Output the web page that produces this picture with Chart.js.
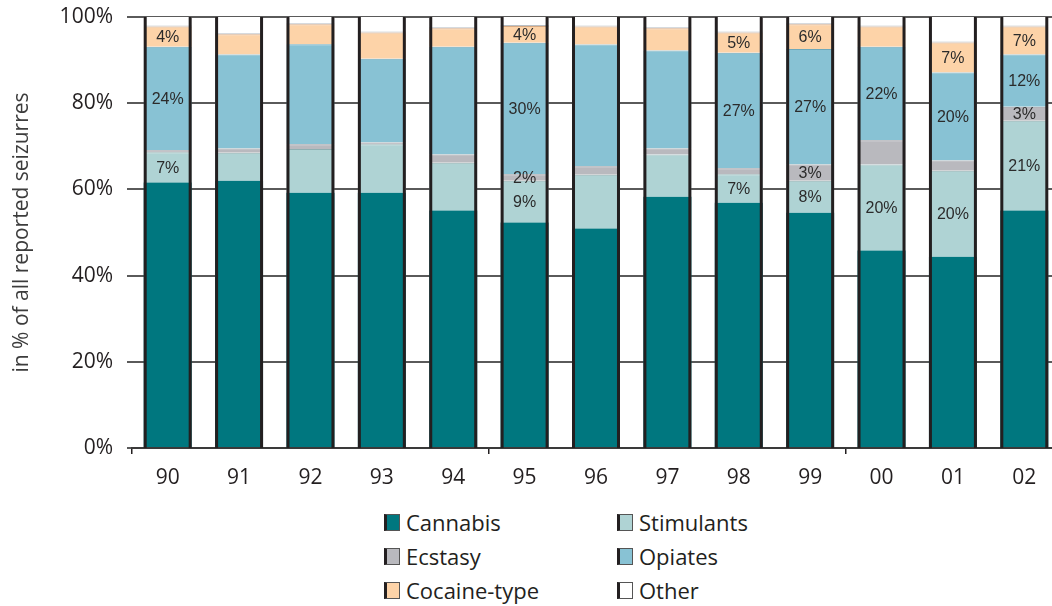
<!DOCTYPE html>
<html>
<head>
<meta charset="utf-8">
<script src="https://cdn.jsdelivr.net/npm/chart.js@4.4.1/dist/chart.umd.min.js"></script>
<style>
  html, body { margin: 0; padding: 0; background: #fff; overflow: hidden; }
  #wrap { position: relative; width: 1052px; height: 606px; overflow: hidden; }
  #chart { position: absolute; left: 0; top: 0; }
  #legend {
    position: absolute; left: 384px; top: 505px;
    display: grid; grid-template-columns: 233px 200px; grid-auto-rows: 34px;
    font-family: "Open Sans", sans-serif; font-size: 22px; color: #231f20;
  }
  .item { display: flex; align-items: center; }
  .box { width: 12px; height: 15px; border: 1px solid #555; border-left: 3px solid #231f20; margin-right: 6px; }
</style>
</head>
<body>
<div id="wrap">
  <canvas id="chart" width="1060" height="500"></canvas>
  <div id="legend"></div>
</div>
<script>
// years 1990-2002
const years = ["90", "91", "92", "93", "94", "95", "96", "97", "98", "99", "00", "01", "02"];

const cannabis   = [61.6, 62.0, 59.2, 59.2, 55.1, 52.3, 50.9, 58.3, 56.9, 54.6, 45.8, 44.4, 55.1];
const stimulants = [7.0, 6.5, 10.2, 11.3, 11.1, 9.7, 12.5, 9.8, 6.6, 7.4, 20.0, 19.9, 20.8];
const ecstasy    = [0.5, 1.0, 1.1, 0.4, 1.9, 1.5, 2.0, 1.4, 1.4, 3.8, 5.6, 2.4, 3.3];
const opiates    = [24.0, 21.8, 23.2, 19.4, 25.0, 30.5, 28.2, 22.7, 26.8, 26.8, 21.7, 20.4, 12.1];
const cocaine    = [4.7, 4.7, 4.6, 6.1, 4.3, 3.9, 4.2, 5.2, 4.7, 5.7, 4.7, 7.0, 6.5];
const other      = [2.2, 4.0, 1.7, 3.6, 2.6, 2.1, 2.2, 2.6, 3.6, 1.7, 2.2, 5.9, 2.2];

// value labels printed inside the bars ("" = none)
const stimulantsLabels = ["7%", "", "", "", "", "9%", "", "", "7%", "8%", "20%", "20%", "21%"];
const ecstasyLabels    = ["", "", "", "", "", "2%", "", "", "", "3%", "", "", "3%"];
const opiatesLabels    = ["24%", "", "", "", "", "30%", "", "", "27%", "27%", "22%", "20%", "12%"];
const cocaineLabels    = ["4%", "", "", "", "", "4%", "", "", "5%", "6%", "", "7%", "7%"];

const yTicks = [0, 20, 40, 60, 80, 100];

function ds(label, data, bg, border, bw, labels) {
  return {
    label: label,
    data: data,
    backgroundColor: bg,
    borderColor: border,
    borderWidth: bw,
    borderSkipped: false,
    valueLabels: labels || null,
  };
}

const barDecor = {
  id: "barDecor",
  afterDatasetsDraw(chart) {
    const ctx = chart.ctx;
    const y = chart.scales.y;
    const top = y.getPixelForValue(100);
    const bottom = y.getPixelForValue(0);
    const meta0 = chart.getDatasetMeta(0);
    ctx.save();
    ctx.strokeStyle = "#231f20";
    ctx.lineWidth = 3;
    meta0.data.forEach((el) => {
      const l = el.x - el.width / 2 + 1.5;
      const r = el.x + el.width / 2 - 1.5;
      ctx.beginPath();
      ctx.moveTo(l, top); ctx.lineTo(l, bottom);
      ctx.moveTo(r, top); ctx.lineTo(r, bottom);
      ctx.stroke();
    });
    ctx.fillStyle = "#2b2b2b";
    ctx.font = "16px 'Liberation Sans', Arial, sans-serif";
    ctx.textAlign = "center";
    ctx.textBaseline = "middle";
    chart.data.datasets.forEach((d, i) => {
      if (!d.valueLabels) return;
      chart.getDatasetMeta(i).data.forEach((el, j) => {
        const t = d.valueLabels[j];
        if (t) ctx.fillText(t, el.x, (el.y + el.base) / 2 + 1);
      });
    });
    ctx.restore();
  },
};

const chart = new Chart(document.getElementById("chart"), {
  type: "bar",
  data: {
    labels: years,
    datasets: [
      ds("Cannabis", cannabis, "#00777f", "#00777f", 0),
      ds("Stimulants", stimulants, "#afd3d4", "#8fb0b2", { top: 1, bottom: 0, left: 0, right: 0 }, stimulantsLabels),
      ds("Ecstasy", ecstasy, "#b9b9be", "#9a9aa0", { top: 1, bottom: 0, left: 0, right: 0 }, ecstasyLabels),
      ds("Opiates", opiates, "#88c2d4", "#6ea8ba", { top: 1, bottom: 0, left: 0, right: 0 }, opiatesLabels),
      ds("Cocaine-type", cocaine, "#fdd3a8", "#d6a983", { top: 1, bottom: 0, left: 0, right: 0 }, cocaineLabels),
      ds("Other", other, "#ffffff", "#b8bfc5", { top: 0, bottom: 1, left: 0, right: 0 }),
    ],
  },
  options: {
    responsive: false,
    animation: false,
    devicePixelRatio: 1,
    layout: { padding: { top: 17, left: 0, right: 0, bottom: 0 } },
    datasets: { bar: { categoryPercentage: 1.0, barPercentage: 0.672 } },
    plugins: {
      legend: { display: false },
      tooltip: { enabled: false },
    },
    scales: {
      x: {
        stacked: true,
        offset: true,
        afterFit: (s) => { s.height = 52; s.paddingLeft = 0; s.paddingRight = 0; },
        border: { display: true, color: "#3a3a3a", width: 2 },
        grid: {
          offset: true,
          drawOnChartArea: false,
          drawTicks: true,
          tickLength: 6,
          lineWidth: 1.5,
          color: (c) => ([0, 5, 10].includes(c.index) ? "#231f20" : "rgba(0,0,0,0)"),
        },
        ticks: {
          padding: 11,
          color: "#231f20",
          font: { family: "'Open Sans', sans-serif", size: 21 },
        },
      },
      y: {
        stacked: true,
        min: 0,
        max: 100,
        afterFit: (s) => { s.width = 132; s.paddingTop = 0; s.paddingBottom = 0; },
        afterBuildTicks: (s) => { s.ticks = yTicks.map((v) => ({ value: v })); },
        border: { display: false },
        grid: {
          color: "#5a5a5a",
          lineWidth: 2,
          drawTicks: true,
          tickLength: 5,
        },
        ticks: {
          padding: 14,
          color: "#231f20",
          font: { family: "'Open Sans', sans-serif", size: 21 },
          callback: (v) => v + "%",
        },
        title: {
          display: true,
          text: "in % of all reported seizurres",
          color: "#3c3c3c",
          padding: { top: 9, bottom: 0 },
          font: { family: "'Open Sans', sans-serif", size: 21 },
        },
      },
    },
  },
  plugins: [barDecor],
});

// legend in two columns, built from the chart's datasets
const legendEl = document.getElementById("legend");
chart.data.datasets.forEach((d) => {
  const item = document.createElement("div");
  item.className = "item";
  const box = document.createElement("span");
  box.className = "box";
  box.style.background = d.backgroundColor;
  const txt = document.createElement("span");
  txt.textContent = d.label;
  item.appendChild(box);
  item.appendChild(txt);
  legendEl.appendChild(item);
});
</script>
</body>
</html>
